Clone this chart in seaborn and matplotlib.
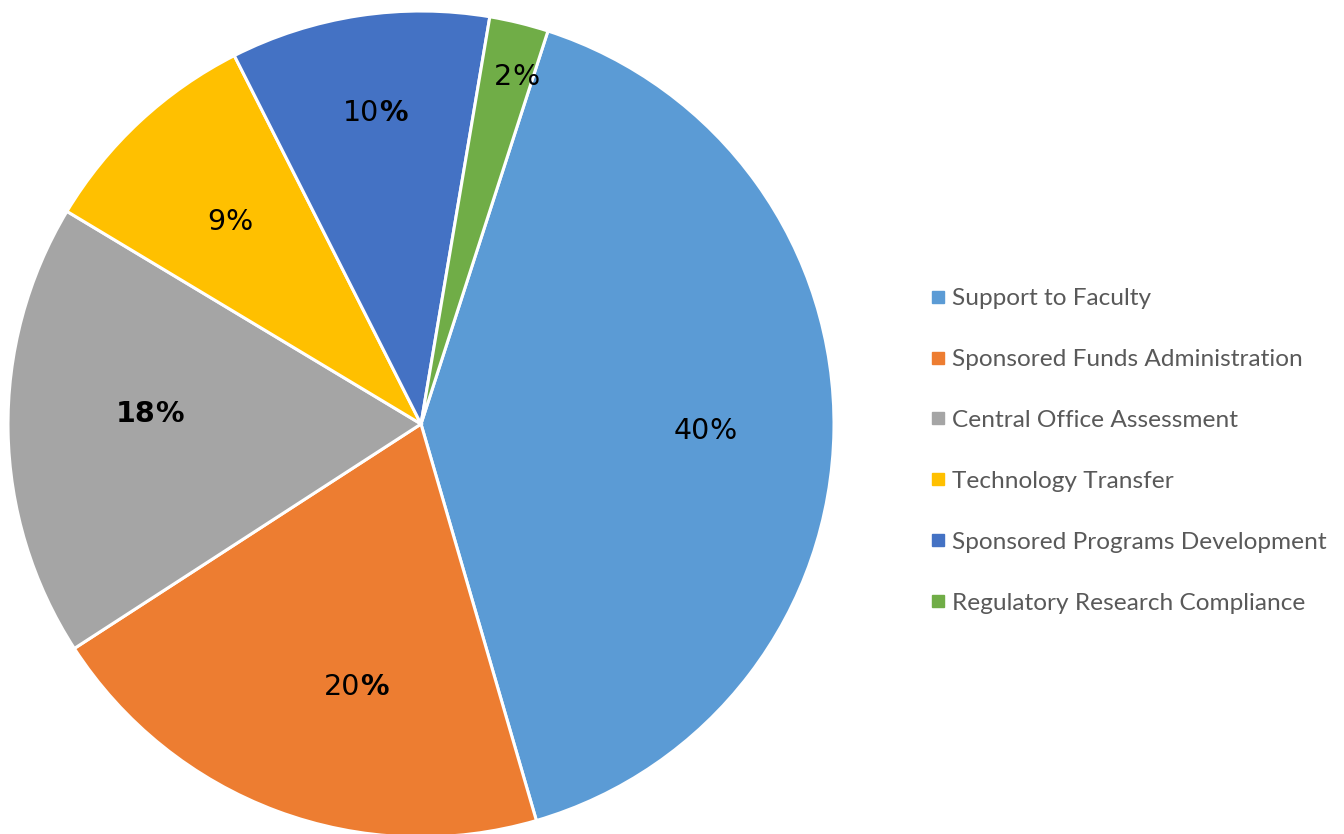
import numpy as np
import seaborn as sns
import matplotlib.pyplot as plt
from matplotlib.lines import Line2D

# -------------------------
# Data
# -------------------------
categories = [
    "Support to Faculty",
    "Sponsored Funds Administration",
    "Central Office Assessment",
    "Technology Transfer",
    "Sponsored Programs Development",
    "Regulatory Research Compliance",
]
shares = [40.4, 20.3, 17.7, 8.9, 10.1, 2.3]
pct_labels = ["40", "20", "18", "9", "10", "2"]
colors = ["#5B9BD5", "#ED7D31", "#A5A5A5", "#FFC000", "#4472C4", "#70AD47"]

# label styling as seen in the chart (number weight, % weight, placement)
num_weight = ["normal", "normal", "bold", "normal", "normal", "normal"]
pct_weight = ["normal", "bold", "bold", "normal", "bold", "normal"]
label_r = [0.688, 0.656, 0.657, 0.673, 0.761, 0.872]
label_dang = [-0.6, 6.6, -3.0, 0.5, -0.3, -1.7]  # degrees off the wedge middle

# -------------------------
# Style
# -------------------------
sns.set_theme(style="white")
plt.rcParams["font.family"] = ["Lato", "DejaVu Sans"]

fig = plt.figure(figsize=(13.44, 8.34), dpi=100)
fig.patch.set_facecolor("white")
ax = fig.add_axes([8 / 1344, -3 / 834, 826 / 1344, 826 / 834])

pal = sns.color_palette(colors)
wedges, _ = ax.pie(
    shares,
    colors=pal,
    startangle=72.1,
    counterclock=False,
    radius=1.0,
    wedgeprops=dict(edgecolor="white", linewidth=2.2),
)
ax.set_xlim(-1, 1)
ax.set_ylim(-1, 1)
ax.set_aspect("equal")
ax.axis("off")

# ---- percentage labels (mixed weights, centred as one string)
pairs = []
for w, num, nw, pw, r, da in zip(wedges, pct_labels, num_weight, pct_weight,
                                 label_r, label_dang):
    mid = np.deg2rad((w.theta1 + w.theta2) / 2 + da)
    x, y = r * np.cos(mid), r * np.sin(mid)
    t1 = ax.annotate(num, (x, y), xytext=(0, 0), textcoords="offset pixels",
                     ha="left", va="center", fontsize=20.5, fontweight=nw,
                     family="DejaVu Sans", color="black")
    t2 = ax.annotate("%", (x, y), xytext=(0, 0), textcoords="offset pixels",
                     ha="left", va="center", fontsize=20.5, fontweight=pw,
                     family="DejaVu Sans", color="black")
    pairs.append((t1, t2))

fig.canvas.draw()
rend = fig.canvas.get_renderer()
for t1, t2 in pairs:
    w1 = t1.get_window_extent(rend).width
    w2 = t2.get_window_extent(rend).width
    start = -(w1 + w2) / 2
    t1.xyann = (start, 0)
    t2.xyann = (start + w1, 0)

# ---- legend
handles = [
    Line2D([0], [0], marker="s", linestyle="none", markersize=8,
           markerfacecolor=c, markeredgecolor=c)
    for c in colors
]
leg = fig.legend(
    handles,
    categories,
    loc="upper left",
    bbox_to_anchor=(931 / 1344, (834 - 288) / 834),
    frameon=False,
    fontsize=17.6,
    labelspacing=1.63,
    handlelength=0.6,
    handletextpad=0.27,
    borderpad=0,
    borderaxespad=0,
)
for txt in leg.get_texts():
    txt.set_color("#595959")

plt.savefig("out.png", dpi=100, facecolor="white")
plt.close()
